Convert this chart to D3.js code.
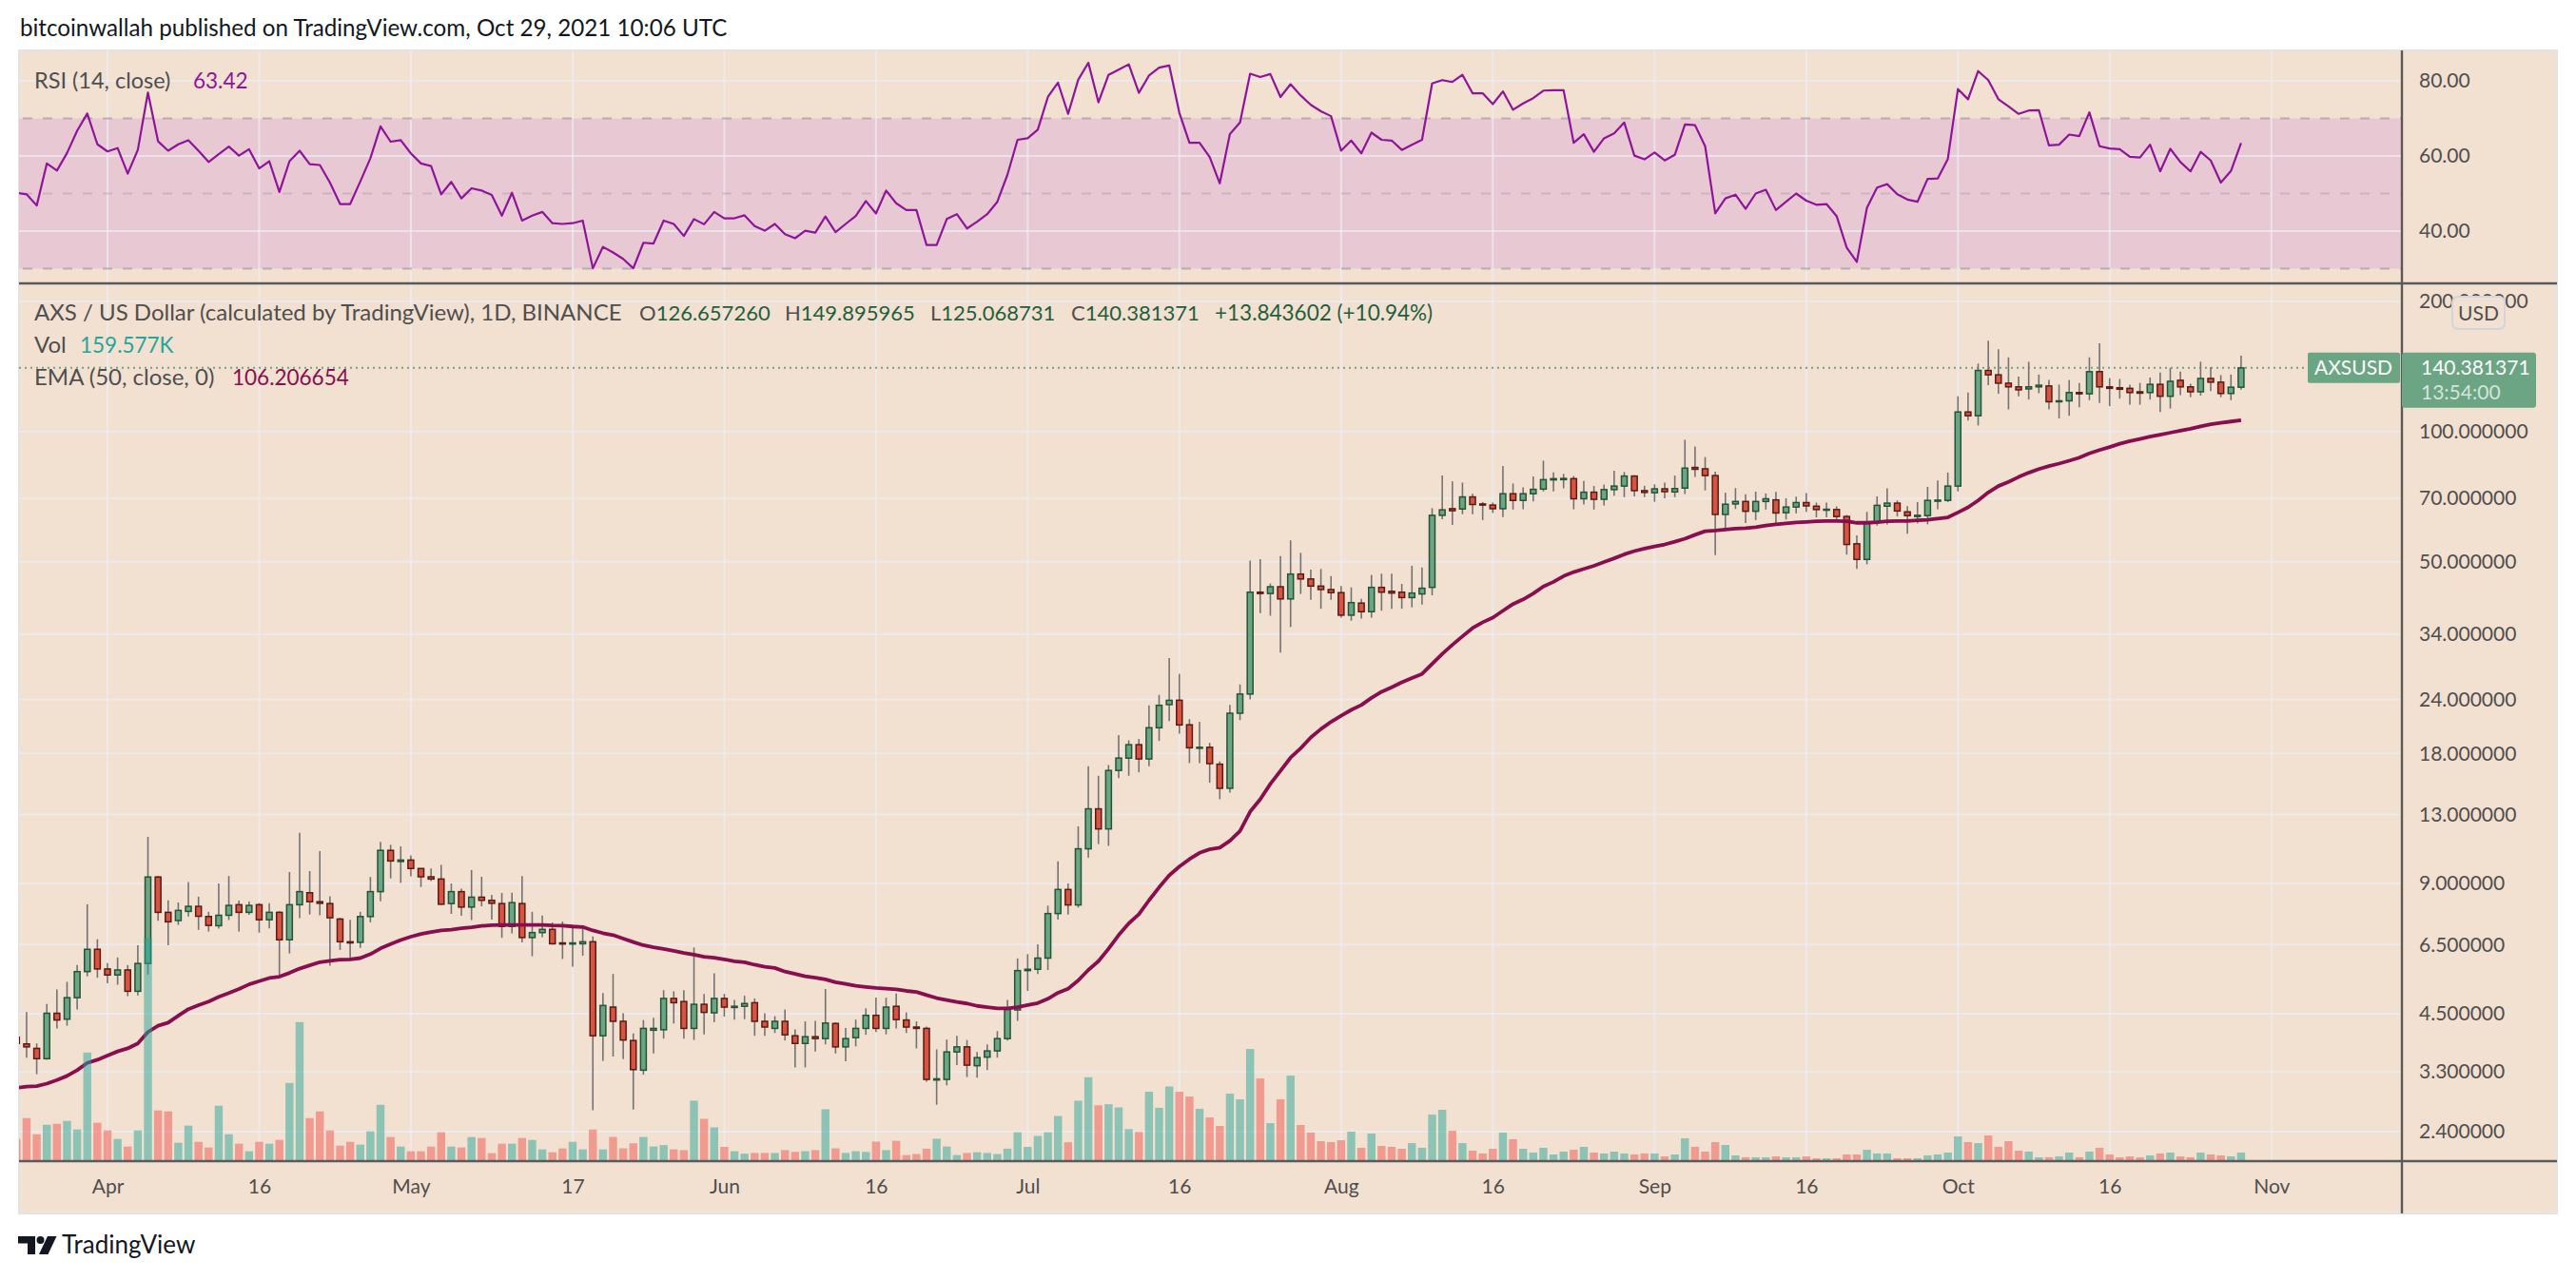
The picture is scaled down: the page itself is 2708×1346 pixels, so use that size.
<!DOCTYPE html>
<html>
<head>
<meta charset="utf-8">
<script src="https://cdn.jsdelivr.net/npm/d3@7"></script>
<style>
  body { margin: 0; background: #ffffff; }
  svg text { font-family: Lato, "Liberation Sans", sans-serif; }
</style>
</head>
<body>
<script>
// AXS / USD daily candles, 23 Mar - 29 Oct 2021
var firstDay = Date.UTC(2021, 2, 23);
var lastDay = Date.UTC(2021, 9, 29);

var opens = [
  3.97, 3.83, 3.74, 3.54, 4.51, 4.37, 4.90, 5.63, 6.34,
  5.71, 5.53, 5.68, 5.07, 5.88, 9.32, 7.72, 7.39, 7.76, 7.97, 7.55, 7.19, 7.60, 8.04, 7.72, 8.04, 7.42, 7.72, 6.67, 8.04, 8.57, 8.17, 8.09, 7.45, 6.60, 6.58, 7.55, 8.62, 10.74, 10.12,
  10.20, 9.75, 9.33, 9.22, 8.09, 8.62, 7.94, 8.37, 8.23, 8.09, 7.16, 8.09, 6.75, 6.93, 7.05, 6.56, 6.52, 6.53, 6.60, 4.00, 4.66, 4.32, 3.90, 3.33, 4.12, 4.13, 4.88, 4.80, 4.16, 4.73, 4.52,
  4.88, 4.65, 4.68, 4.77, 4.32, 4.16, 4.32, 4.00, 3.84, 3.98, 3.94, 4.27, 3.77, 3.96, 4.16, 4.46, 4.16, 4.68, 4.35, 4.19, 4.16, 3.16, 3.17, 3.67, 3.77, 3.41, 3.57, 3.69, 3.94, 4.59,
  5.66, 5.70, 6.05, 7.67, 8.72, 8.03, 10.83, 13.40, 12.04, 16.44, 17.56, 18.86, 17.48, 20.64, 23.35, 23.9, 20.97, 18.5, 18.6, 17.0, 14.95, 22.3, 24.7, 42.5, 42.2, 43.75, 41.0, 46.8, 45.6, 43.9, 43.1,
  42.4, 37.6, 40.1, 38.3, 43.6, 42.7, 42.5, 41.3, 42.1, 43.6, 64.0, 66.3, 66.2, 70.6, 68.0, 67.6, 66.3, 71.8, 69.3, 71.8, 73.6, 77.3, 77.4, 77.8, 69.9, 72.4, 69.7, 73.4, 74.8, 78.9, 73.0,
  72.2, 73.7, 72.5, 74.0, 82.6, 82.0, 79.1, 64.3, 68.0, 68.9, 65.4, 68.9, 69.5, 64.9, 66.9, 68.5, 67.2, 66.0, 66.0, 63.6, 55.0, 50.6, 61.7, 67.2, 68.3, 65.2, 63.6, 63.9, 69.0, 69.3,
  74.8, 111.0, 108.8, 138.5, 135.3, 129.4, 126.9, 125.5, 126.9, 127.5, 117.2, 117.8, 123.1, 122.3, 137.6, 126.9, 126.3, 125.9, 123.6, 123.1, 128.6, 120.7, 131.4, 126.9, 123.6, 132.7, 130.1, 122.5, 126.657260
];

var highs = [
  4.05, 4.54, 3.84, 4.74, 5.12, 5.33, 5.83, 8.06, 6.69,
  5.89, 6.07, 5.83, 6.48, 11.54, 9.38, 8.23, 8.14, 9.07, 8.39, 7.74, 9.00, 9.37, 8.22, 8.18, 8.11, 8.11, 7.77, 9.57, 11.80, 9.62, 10.70, 8.41, 7.50, 7.42, 7.74, 9.32, 11.24, 11.06, 10.97,
  10.46, 9.75, 9.75, 9.94, 9.00, 8.76, 9.67, 9.33, 8.47, 8.56, 8.57, 9.37, 7.74, 7.59, 7.31, 7.35, 7.22, 7.19, 6.79, 5.02, 5.56, 4.51, 4.05, 4.35, 4.40, 5.10, 5.07, 5.10, 6.40, 5.00, 5.58,
  5.00, 4.84, 4.95, 4.88, 4.51, 4.44, 4.60, 4.14, 4.32, 4.33, 5.13, 4.30, 4.17, 4.36, 4.63, 4.90, 4.90, 5.01, 4.53, 4.32, 4.20, 3.72, 3.92, 4.00, 3.91, 3.67, 3.82, 4.10, 4.84, 6.04,
  6.18, 6.51, 8.00, 10.13, 9.00, 12.21, 16.81, 15.98, 16.92, 19.86, 19.31, 19.44, 23.26, 24.6, 29.9, 27.5, 21.6, 21.3, 19.05, 17.26, 23.3, 26.0, 50.3, 50.7, 44.5, 51.5, 56.0, 52.4, 47.9, 48.1, 46.3,
  43.9, 43.6, 41.0, 46.6, 46.9, 46.9, 44.4, 48.9, 48.5, 66.5, 79.1, 76.7, 76.2, 71.8, 68.7, 68.5, 83.3, 75.8, 74.3, 78.7, 85.6, 80.5, 79.8, 78.9, 76.9, 74.8, 75.4, 81.2, 80.6, 79.2, 74.9,
  75.5, 76.2, 79.1, 95.7, 92.4, 87.3, 80.8, 72.2, 74.0, 71.6, 72.6, 71.9, 72.5, 70.1, 70.7, 72.1, 68.5, 68.5, 67.1, 64.1, 57.5, 65.2, 70.8, 73.9, 69.3, 67.2, 68.7, 74.5, 77.1, 80.4,
  120.7, 123.1, 143.7, 162.3, 155.0, 148.5, 134.0, 145.0, 135.5, 131.6, 128.4, 131.6, 129.6, 148.5, 160.0, 132.9, 132.3, 128.4, 129.6, 133.4, 136.9, 140.4, 137.6, 129.0, 145.0, 141.0, 135.1, 135.5, 149.895965
];

var lows = [
  3.75, 3.56, 3.26, 3.52, 4.16, 4.22, 4.60, 5.49, 5.45,
  5.29, 5.25, 4.94, 4.96, 5.54, 7.38, 6.48, 7.22, 7.55, 7.03, 6.97, 7.08, 7.41, 6.97, 7.62, 6.93, 7.09, 5.49, 6.20, 7.48, 7.63, 7.60, 5.81, 6.32, 6.04, 6.39, 7.32, 8.19, 9.25, 9.03,
  9.35, 8.84, 9.12, 8.04, 7.66, 7.58, 7.41, 7.97, 7.43, 6.74, 6.90, 6.58, 6.11, 6.76, 6.50, 6.02, 5.78, 6.13, 2.69, 3.50, 3.58, 3.53, 2.70, 3.25, 3.64, 3.94, 4.27, 3.94, 3.91, 4.03, 4.30,
  4.43, 4.36, 4.37, 4.00, 4.00, 4.06, 3.90, 3.38, 3.38, 3.68, 3.82, 3.64, 3.49, 3.78, 4.02, 4.08, 4.03, 4.16, 4.06, 3.74, 3.13, 2.77, 3.07, 3.42, 3.21, 3.20, 3.33, 3.56, 3.90, 4.33,
  5.08, 5.56, 5.68, 7.43, 7.63, 7.92, 10.33, 11.11, 11.0, 15.78, 15.98, 16.28, 16.81, 19.24, 21.4, 20.0, 17.1, 17.1, 15.4, 14.1, 14.6, 21.5, 24.0, 38.0, 37.5, 30.8, 35.3, 42.1, 40.8, 38.9, 40.8,
  37.1, 36.5, 36.9, 37.1, 38.5, 38.9, 38.9, 39.2, 39.8, 41.8, 62.7, 60.8, 64.4, 64.4, 62.4, 64.8, 63.4, 66.0, 66.1, 68.9, 72.7, 72.7, 73.9, 66.1, 67.8, 66.0, 67.4, 71.1, 70.5, 70.8, 70.5,
  68.8, 70.1, 70.5, 71.7, 78.5, 73.1, 51.8, 59.9, 66.2, 61.4, 62.4, 66.0, 61.2, 62.6, 64.7, 65.2, 63.3, 63.3, 62.6, 51.9, 48.1, 49.3, 60.6, 61.0, 63.6, 58.0, 61.3, 61.0, 66.1, 68.7,
  72.7, 106.1, 103.3, 128.0, 122.3, 112.5, 120.7, 118.6, 122.7, 112.5, 107.3, 108.8, 113.8, 118.2, 116.4, 114.5, 119.2, 115.4, 115.4, 118.6, 111.0, 113.1, 121.5, 120.1, 121.1, 124.0, 120.1, 118.2, 125.068731
];

var closes = [
  3.84, 3.77, 3.54, 4.51, 4.35, 4.90, 5.63, 6.34, 5.71,
  5.53, 5.68, 5.07, 5.88, 9.32, 7.72, 7.34, 7.80, 7.97, 7.56, 7.20, 7.60, 8.01, 7.72, 8.01, 7.42, 7.72, 6.67, 8.04, 8.62, 8.17, 8.10, 7.50, 6.60, 6.56, 7.55, 8.62, 10.74, 10.15, 10.20,
  9.75, 9.33, 9.22, 8.06, 8.62, 7.94, 8.37, 8.23, 8.10, 7.16, 8.13, 6.75, 6.93, 7.05, 6.53, 6.52, 6.56, 6.60, 4.00, 4.70, 4.32, 3.91, 3.34, 4.16, 4.16, 4.88, 4.77, 4.16, 4.73, 4.53, 4.88,
  4.66, 4.68, 4.75, 4.32, 4.19, 4.32, 4.02, 3.84, 3.98, 3.94, 4.28, 3.77, 3.94, 4.16, 4.46, 4.16, 4.66, 4.36, 4.19, 4.16, 3.17, 3.18, 3.67, 3.77, 3.42, 3.56, 3.69, 3.94, 4.60, 5.66,
  5.70, 6.05, 7.67, 8.72, 8.03, 10.83, 13.40, 12.04, 16.44, 17.56, 18.86, 17.48, 20.64, 23.26, 23.89, 20.95, 18.55, 18.6, 17.05, 14.95, 22.3, 24.7, 42.5, 42.2, 43.75, 41.0, 46.8, 45.6, 43.9, 43.1, 42.4,
  37.6, 40.2, 38.3, 43.6, 42.5, 42.3, 41.3, 42.3, 43.4, 64.0, 65.9, 65.6, 70.6, 67.8, 67.6, 66.3, 71.8, 69.3, 71.8, 73.5, 77.4, 77.8, 77.9, 69.9, 72.4, 69.7, 73.4, 74.8, 78.9, 73.0, 72.3,
  73.7, 72.6, 73.8, 82.3, 81.8, 79.1, 64.3, 67.9, 68.9, 65.4, 68.9, 69.9, 64.8, 66.9, 68.5, 67.3, 66.0, 66.1, 63.6, 54.8, 50.6, 61.5, 67.5, 68.3, 65.5, 63.9, 64.0, 69.3, 69.4, 74.8,
  111.0, 108.8, 138.5, 135.3, 129.4, 126.9, 124.9, 126.9, 128.0, 117.2, 117.8, 123.1, 122.3, 137.6, 126.9, 125.9, 125.3, 123.1, 122.7, 128.6, 120.7, 130.7, 126.9, 123.6, 132.7, 130.1, 122.5, 126.66, 140.381371
];

// volume, thousands
var volumes = [
  413, 802, 501, 678, 696, 749, 590, 2023, 714,
  572, 413, 271, 572, 4160, 944, 926, 342, 661, 360, 254, 1032, 501, 324, 183, 360, 324, 395, 1457, 2590, 802, 926, 572, 289, 360, 307, 555, 1050, 448, 271,
  183, 183, 271, 537, 271, 254, 448, 431, 148, 324, 324, 431, 395, 218, 165, 236, 360, 218, 590, 218, 450, 238, 331, 450, 272, 298, 219, 205, 1126, 788, 629,
  265, 185, 139, 152, 152, 152, 205, 172, 185, 205, 967, 238, 152, 185, 172, 364, 205, 378, 113, 132, 232, 417, 272, 113, 152, 166, 152, 132, 232, 537,
  265, 470, 537, 841, 351, 1126, 1563, 1040, 1060, 1000, 596, 543, 1292, 994, 1391, 1292, 1204, 974, 814, 655, 1257, 1151, 2089, 1540, 708, 1151, 1593, 673, 531, 372, 354,
  389, 549, 248, 513, 283, 266, 230, 336, 248, 867, 956, 566, 336, 195, 142, 230, 531, 407, 230, 159, 248, 124, 177, 212, 266, 159, 142, 177, 142, 124, 142,
  142, 89, 124, 425, 266, 177, 354, 301, 106, 71, 71, 71, 89, 71, 71, 89, 53, 53, 53, 124, 124, 212, 142, 142, 53, 53, 53, 106, 124, 159,
  460, 354, 336, 478, 266, 372, 195, 177, 71, 71, 89, 159, 71, 177, 248, 124, 71, 89, 71, 106, 142, 159, 89, 71, 159, 124, 106, 89, 159.577
];

// EMA (50, close)
var emaValues = [
  3.03, 3.05, 3.06, 3.10, 3.16, 3.23, 3.33, 3.46, 3.52,
  3.60, 3.68, 3.74, 3.84, 4.08, 4.22, 4.29, 4.45, 4.61, 4.71, 4.80, 4.92, 5.02, 5.13, 5.26, 5.35, 5.44, 5.48, 5.59, 5.72, 5.82, 5.92, 5.96, 6.00, 6.01, 6.05, 6.18, 6.37, 6.52, 6.66,
  6.78, 6.88, 6.95, 7.01, 7.04, 7.09, 7.13, 7.18, 7.21, 7.22, 7.22, 7.22, 7.22, 7.22, 7.20, 7.19, 7.16, 7.14, 7.01, 6.91, 6.84, 6.71, 6.59, 6.48, 6.41, 6.35, 6.29, 6.22, 6.16, 6.09, 6.06,
  6.01, 5.95, 5.92, 5.84, 5.78, 5.74, 5.63, 5.56, 5.49, 5.45, 5.40, 5.32, 5.27, 5.22, 5.19, 5.16, 5.14, 5.12, 5.08, 5.05, 4.97, 4.89, 4.84, 4.79, 4.75, 4.69, 4.66, 4.63, 4.63, 4.66,
  4.71, 4.76, 4.87, 5.03, 5.14, 5.37, 5.68, 5.95, 6.36, 6.84, 7.28, 7.64, 8.23, 8.82, 9.40, 9.85, 10.25, 10.6, 10.8, 10.9, 11.3, 11.9, 13.2, 14.1, 15.3, 16.4, 17.6, 18.5, 19.6, 20.5, 21.3,
  22.0, 22.7, 23.3, 24.2, 25.0, 25.6, 26.3, 26.9, 27.5, 29.0, 30.6, 32.1, 33.6, 35.1, 36.2, 37.1, 38.5, 39.9, 40.9, 42.2, 43.8, 44.9, 46.3, 47.3, 48.1, 48.9, 49.9, 50.9, 52.0, 52.9, 53.6,
  54.2, 54.8, 55.6, 56.5, 57.7, 58.8, 59.0, 59.3, 59.6, 59.8, 60.1, 60.6, 61.0, 61.3, 61.6, 61.8, 62.0, 62.1, 62.1, 62.0, 61.5, 61.5, 61.7, 62.0, 62.1, 62.1, 62.3, 62.5, 62.9, 63.3,
  65.0, 66.8, 69.3, 72.3, 74.8, 76.5, 78.5, 80.3, 81.9, 83.2, 84.3, 85.6, 87.0, 89.0, 90.6, 92.1, 93.7, 95.0, 96.1, 97.3, 98.3, 99.4, 100.5, 101.5, 102.8, 104.0, 104.8, 105.5, 106.206654
];

// RSI (14, close)
var rsiValues = [
  50.2, 49.8, 46.8, 58.0, 56.1, 60.8, 66.7, 71.3, 63.1,
  61.2, 62.1, 55.3, 61.6, 76.9, 63.9, 61.4, 63.1, 64.2, 61.4, 58.4, 60.5, 62.5, 60.1, 61.8, 56.7, 58.6, 50.4, 58.6, 61.4, 57.8, 57.6, 52.9, 47.2, 47.2, 53.2, 59.4, 67.9, 63.8, 64.2,
  60.7, 58.0, 57.3, 49.8, 53.1, 48.7, 51.4, 50.8, 49.6, 44.1, 50.2, 42.8, 44.1, 45.1, 42.1, 41.9, 42.1, 42.8, 30.1, 35.8, 34.3, 32.6, 30.1, 36.9, 36.7, 42.8, 41.9, 38.7, 43.2, 41.8, 45.1,
  43.4, 43.4, 44.2, 41.3, 40.1, 41.9, 39.2, 38.1, 40.1, 39.6, 43.9, 39.7, 41.9, 44.0, 48.0, 44.7, 50.8, 47.4, 45.6, 45.6, 36.3, 36.3, 43.2, 44.5, 40.7, 42.5, 44.5, 47.8, 55.0, 64.3,
  64.7, 67.0, 75.7, 79.5, 71.2, 80.3, 84.8, 74.3, 81.6, 83.0, 84.4, 76.8, 81.4, 83.5, 84.1, 71.5, 63.5, 63.5, 59.7, 52.7, 65.8, 68.9, 81.9, 81.0, 81.8, 75.7, 79.1, 76.1, 73.6, 71.9, 70.6,
  61.4, 64.1, 60.7, 66.2, 64.3, 64.1, 61.6, 63.0, 64.3, 79.3, 80.2, 79.7, 81.6, 76.7, 76.7, 73.8, 77.2, 72.3, 74.0, 75.4, 77.4, 77.5, 77.5, 63.5, 65.8, 61.1, 64.7, 66.0, 68.9, 60.1, 59.1,
  60.9, 58.8, 60.3, 68.4, 68.2, 62.6, 44.7, 48.7, 49.7, 45.9, 50.0, 51.0, 45.6, 47.8, 50.0, 48.1, 47.0, 47.2, 44.0, 35.6, 31.8, 46.2, 51.6, 52.5, 49.8, 48.4, 47.8, 53.9, 54.0, 59.2,
  77.8, 75.1, 82.6, 80.2, 75.1, 73.2, 71.2, 72.1, 72.2, 62.8, 63.0, 65.7, 65.3, 71.6, 62.6, 62.0, 61.8, 59.8, 59.6, 63.0, 55.9, 61.9, 58.4, 55.9, 61.1, 58.8, 52.9, 56.0, 63.42
];

var timeTicks = [[2021, 3, 1], [2021, 3, 16], [2021, 4, 1], [2021, 4, 17], [2021, 5, 1], [2021, 5, 16],
  [2021, 6, 1], [2021, 6, 16], [2021, 7, 1], [2021, 7, 16], [2021, 8, 1], [2021, 8, 16],
  [2021, 9, 1], [2021, 9, 16], [2021, 10, 1]];
var timeTickLabels = ["Apr", "16", "May", "17", "Jun", "16", "Jul", "16", "Aug", "16", "Sep", "16", "Oct", "16", "Nov"];
var priceTicks = [200, 100, 70, 50, 34, 24, 18, 13, 9, 6.5, 4.5, 3.3, 2.4];
var rsiTicks = [80, 60, 40];
var rsiBands = [70, 50, 30];

var lastPrice = 140.381371;
var countdown = "13:54:00";

// ---- layout ----
var svgWidth = 2708;
var svgHeight = 1346;
var frame = { left: 20, right: 2688, top: 53, bottom: 1276 };
var plotRight = 2525;
var rsiPane = { top: 53, bottom: 297 };
var pricePane = { top: 299, bottom: 1221 };

var bg = "#f2e0d0";
var textGrey = "#4f4f4f";
var upFill = "#6ba583", upLine = "#225437";
var downFill = "#d75442", downLine = "#5b1a13";

var dates = d3.utcDay.range(firstDay, lastDay + 864e5);
var candles = dates.map(function(d, i) {
  return { date: d, o: opens[i], h: highs[i], l: lows[i], c: closes[i], v: volumes[i], ema: emaValues[i], rsi: rsiValues[i] };
});

var svg = d3.select("body")
  .append("svg")
  .attr("width", svgWidth)
  .attr("height", svgHeight);

svg.append("rect").attr("width", svgWidth).attr("height", svgHeight).attr("fill", "#ffffff");
svg.append("rect")
  .attr("x", frame.left).attr("y", frame.top)
  .attr("width", frame.right - frame.left).attr("height", frame.bottom - frame.top)
  .attr("fill", bg).attr("stroke", "#e4e3e3").attr("stroke-width", 2);

var defs = svg.append("defs");
defs.append("clipPath").attr("id", "clipRsi").append("rect")
  .attr("x", frame.left).attr("y", rsiPane.top)
  .attr("width", plotRight - frame.left).attr("height", rsiPane.bottom - rsiPane.top);
defs.append("clipPath").attr("id", "clipPrice").append("rect")
  .attr("x", frame.left).attr("y", pricePane.top)
  .attr("width", plotRight - frame.left).attr("height", pricePane.bottom - pricePane.top);

// scales
var xScale = d3.scaleUtc()
  .domain([new Date(Date.UTC(2021, 3, 1)), new Date(Date.UTC(2021, 10, 1))])
  .range([113, 2387.8]);
var yPrice = d3.scaleLog().domain([2.4, 200]).range([1190, 317]);
var yRsi = d3.scaleLinear().domain([40, 80]).range([243, 85]);
var yVol = d3.scaleLinear().domain([0, 4200]).range([pricePane.bottom, 984]);

var tickDates = timeTicks.map(function(t) { return new Date(Date.UTC(t[0], t[1], t[2])); });

// ---- RSI pane ----
var rsiG = svg.append("g").attr("clip-path", "url(#clipRsi)");
rsiG.append("rect")
  .attr("x", frame.left).attr("width", plotRight - frame.left)
  .attr("y", yRsi(70)).attr("height", yRsi(30) - yRsi(70))
  .attr("fill", "#e8c9d3");

rsiG.selectAll(".vgrid").data(tickDates).enter().append("line")
  .attr("x1", function(d) { return xScale(d); }).attr("x2", function(d) { return xScale(d); })
  .attr("y1", rsiPane.top).attr("y2", rsiPane.bottom)
  .attr("stroke", "rgba(236,238,246,0.7)").attr("stroke-width", 2);
rsiG.selectAll(".hgrid").data(rsiTicks).enter().append("line")
  .attr("x1", frame.left).attr("x2", plotRight)
  .attr("y1", function(d) { return yRsi(d); }).attr("y2", function(d) { return yRsi(d); })
  .attr("stroke", "rgba(236,238,246,0.7)").attr("stroke-width", 2);
rsiG.selectAll(".band").data(rsiBands).enter().append("line")
  .attr("x1", frame.left + 4).attr("x2", plotRight)
  .attr("y1", function(d) { return yRsi(d); }).attr("y2", function(d) { return yRsi(d); })
  .attr("stroke", function(d) { return d === 50 ? "rgba(150,140,160,0.35)" : "rgba(150,145,160,0.6)"; })
  .attr("stroke-width", 2).attr("stroke-dasharray", "10,11");

var rsiLine = d3.line()
  .x(function(d) { return xScale(d.date); })
  .y(function(d) { return yRsi(d.rsi); });
rsiG.append("path")
  .attr("d", rsiLine(candles))
  .attr("fill", "none").attr("stroke", "#8e1599").attr("stroke-width", 2.2)
  .attr("stroke-linejoin", "round");

// ---- price pane ----
var priceG = svg.append("g").attr("clip-path", "url(#clipPrice)");
priceG.selectAll(".vgrid").data(tickDates).enter().append("line")
  .attr("x1", function(d) { return xScale(d); }).attr("x2", function(d) { return xScale(d); })
  .attr("y1", pricePane.top).attr("y2", pricePane.bottom)
  .attr("stroke", "rgba(236,238,246,0.7)").attr("stroke-width", 2);
priceG.selectAll(".hgrid").data(priceTicks).enter().append("line")
  .attr("x1", frame.left).attr("x2", plotRight)
  .attr("y1", function(d) { return yPrice(d); }).attr("y2", function(d) { return yPrice(d); })
  .attr("stroke", "rgba(236,238,246,0.7)").attr("stroke-width", 2);

// last price dotted line
priceG.append("line")
  .attr("x1", frame.left).attr("x2", 2424)
  .attr("y1", yPrice(lastPrice)).attr("y2", yPrice(lastPrice))
  .attr("stroke", upFill).attr("stroke-width", 2).attr("stroke-dasharray", "2,4");

var bodyW = 6;
var candleG = priceG.selectAll(".candle").data(candles).enter().append("g");
candleG.append("line")
  .attr("x1", function(d) { return xScale(d.date); }).attr("x2", function(d) { return xScale(d.date); })
  .attr("y1", function(d) { return yPrice(d.h); }).attr("y2", function(d) { return yPrice(d.l); })
  .attr("stroke", "#737375").attr("stroke-width", 1.6);
candleG.append("rect")
  .attr("x", function(d) { return xScale(d.date) - bodyW / 2; })
  .attr("width", bodyW)
  .attr("y", function(d) { return yPrice(Math.max(d.o, d.c)); })
  .attr("height", function(d) { return Math.max(1, yPrice(Math.min(d.o, d.c)) - yPrice(Math.max(d.o, d.c))); })
  .attr("fill", function(d) { return d.c >= d.o ? upFill : downFill; })
  .attr("stroke", function(d) { return d.c >= d.o ? upLine : downLine; })
  .attr("stroke-width", 1.5);

var emaLine = d3.line()
  .x(function(d) { return xScale(d.date); })
  .y(function(d) { return yPrice(d.ema); });
priceG.append("path")
  .attr("d", emaLine(candles))
  .attr("fill", "none").attr("stroke", "#880e4f").attr("stroke-width", 3.8)
  .attr("stroke-linejoin", "round");

var volW = 8.4;
priceG.selectAll(".vol").data(candles).enter().append("rect")
  .attr("x", function(d) { return xScale(d.date) - volW / 2; })
  .attr("width", volW)
  .attr("y", function(d) { return yVol(d.v); })
  .attr("height", function(d) { return yVol(0) - yVol(d.v); })
  .attr("fill", function(d) { return d.c >= d.o ? "rgba(38,166,154,0.5)" : "rgba(239,83,80,0.5)"; });

// ---- separators ----
var lineCol = "#5a5a5a";
svg.append("line").attr("x1", frame.left).attr("x2", frame.right).attr("y1", 298).attr("y2", 298)
  .attr("stroke", lineCol).attr("stroke-width", 2.4);
svg.append("line").attr("x1", frame.left).attr("x2", frame.right).attr("y1", pricePane.bottom).attr("y2", pricePane.bottom)
  .attr("stroke", lineCol).attr("stroke-width", 2.4);
svg.append("line").attr("x1", plotRight).attr("x2", plotRight).attr("y1", frame.top).attr("y2", frame.bottom)
  .attr("stroke", lineCol).attr("stroke-width", 2.4);

// ---- axes ----
function styleAxis(g) {
  g.select(".domain").remove();
  g.selectAll("text").attr("fill", textGrey).style("font-size", "21px");
}
svg.append("g")
  .attr("transform", "translate(" + plotRight + ",0)")
  .call(d3.axisRight(yRsi).tickValues(rsiTicks).tickFormat(function(d) { return d.toFixed(2); }).tickSize(0).tickPadding(18))
  .call(styleAxis);
svg.append("g")
  .attr("transform", "translate(" + plotRight + ",0)")
  .call(d3.axisRight(yPrice).tickValues(priceTicks).tickFormat(function(d) { return d.toFixed(6); }).tickSize(0).tickPadding(18))
  .call(styleAxis);
svg.append("g")
  .attr("transform", "translate(0," + pricePane.bottom + ")")
  .call(d3.axisBottom(xScale).tickValues(tickDates).tickFormat(function(d, i) { return timeTickLabels[i]; }).tickSize(0).tickPadding(19))
  .call(styleAxis);

// USD badge (sits over the top price label, as in the original)
svg.append("rect").attr("x", 2578).attr("y", 312).attr("width", 55).attr("height", 34).attr("rx", 6)
  .attr("fill", bg).attr("stroke", "#d3d4de").attr("stroke-width", 2);
svg.append("text").attr("x", 2605.5).attr("y", 337).attr("text-anchor", "middle")
  .attr("fill", textGrey).style("font-size", "21px").text("USD");

// last price labels
var lpY = yPrice(lastPrice);
svg.append("rect").attr("x", 2426).attr("y", lpY - 16).attr("width", 97).attr("height", 32).attr("rx", 2).attr("fill", upFill);
svg.append("text").attr("x", 2474).attr("y", lpY + 7.5).attr("text-anchor", "middle")
  .attr("fill", "#ffffff").style("font-size", "21px").text("AXSUSD");
svg.append("rect").attr("x", plotRight).attr("y", lpY - 16).attr("width", 141).attr("height", 58).attr("rx", 3).attr("fill", upFill);
svg.append("text").attr("x", 2545).attr("y", lpY + 7.5)
  .attr("fill", "#ffffff").style("font-size", "21px").text(lastPrice.toFixed(6));
svg.append("text").attr("x", 2545).attr("y", lpY + 33)
  .attr("fill", "rgba(255,255,255,0.72)").style("font-size", "21px").text(countdown);

// ---- legends ----
svg.append("text").attr("x", 21).attr("y", 38).attr("fill", "#131722").style("font-size", "24.2px")
  .text("bitcoinwallah published on TradingView.com, Oct 29, 2021 10:06 UTC");

function legend(x, y, parts, size) {
  var t = svg.append("text").attr("x", x).attr("y", y).style("font-size", (size || 22) + "px");
  parts.forEach(function(p) { t.append("tspan").attr("fill", p[1]).text(p[0]); });
}
var valGreen = "#1f5f3c";
var last = candles[candles.length - 1];
legend(36, 93, [["RSI (14, close)", textGrey]], 23.5);
legend(203, 93, [[last.rsi.toFixed(2), "#8e1599"]], 22.5);
legend(36, 337, [["AXS / US Dollar (calculated by TradingView), 1D, BINANCE", textGrey]], 24);
legend(672, 337, [["O", textGrey], [last.o.toFixed(6), valGreen]]);
legend(825, 337, [["H", textGrey], [last.h.toFixed(6), valGreen]]);
legend(978, 337, [["L", textGrey], [last.l.toFixed(6), valGreen]]);
legend(1126, 337, [["C", textGrey], [last.c.toFixed(6), valGreen]]);
legend(1277, 337, [["+13.843602 (+10.94%)", valGreen]], 22.5);
legend(36, 371, [["Vol", textGrey]], 24);
legend(84, 371, [[last.v.toFixed(3) + "K", "#26a69a"]], 22.5);
legend(36, 405, [["EMA (50, close, 0)", textGrey]], 24);
legend(244, 405, [[last.ema.toFixed(6), "#880e4f"]], 22.5);

// ---- TradingView mark ----
var logo = svg.append("g").attr("fill", "#131722");
logo.append("path").attr("d", "M19,1300 H37 V1319 H29 V1307.5 H19 Z");
logo.append("circle").attr("cx", 42.5).attr("cy", 1304).attr("r", 4);
logo.append("path").attr("d", "M50,1300 H59.5 L50.5,1319 H41 Z");
svg.append("text").attr("x", 65).attr("y", 1318).attr("fill", "#131722").style("font-size", "26px")
  .text("TradingView");
</script>
</body>
</html>
